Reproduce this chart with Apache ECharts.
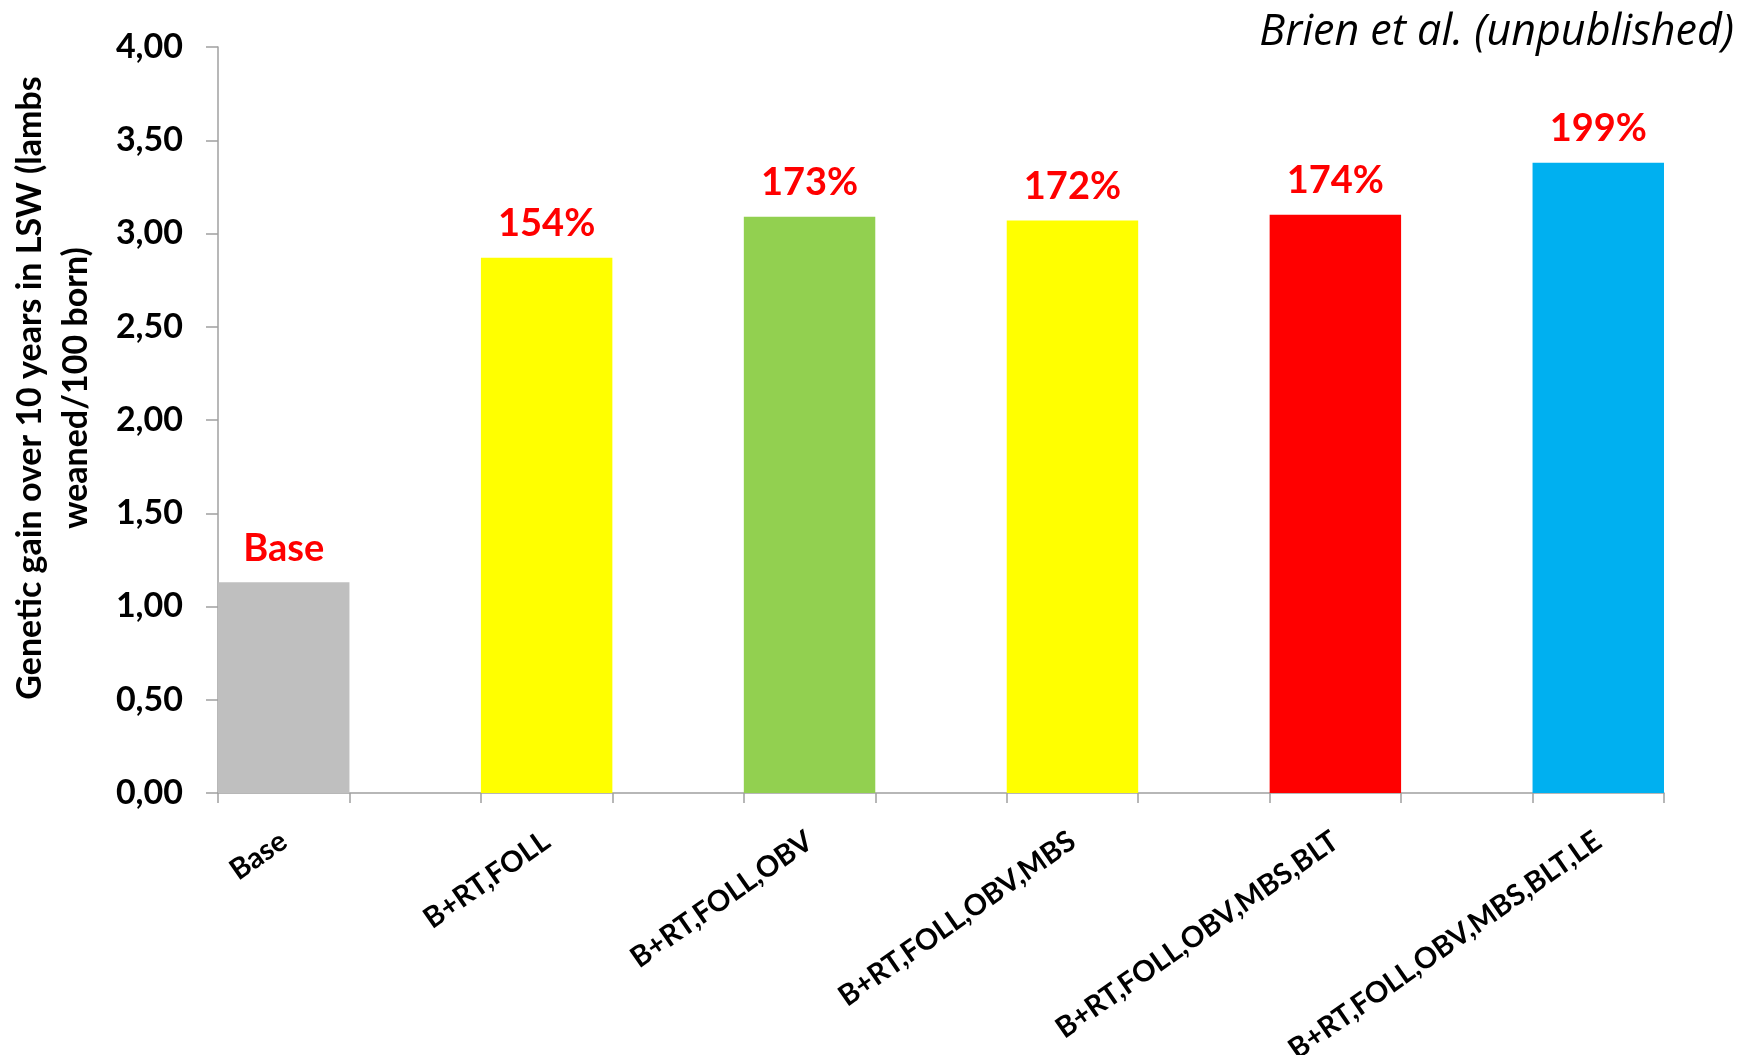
<!DOCTYPE html>
<html>
<head>
<meta charset="utf-8">
<script src="https://cdn.jsdelivr.net/npm/echarts@6/dist/echarts.min.js"></script>
<style>
  html, body { margin: 0; padding: 0; background: #ffffff; }
  #chart { width: 1750px; height: 1055px; }
</style>
</head>
<body>
<div id="chart"></div>
<script>
// Selection scenarios and their 10-year genetic gain in LSW
const categories = ['Base', 'B+RT,FOLL', 'B+RT,FOLL,OBV', 'B+RT,FOLL,OBV,MBS', 'B+RT,FOLL,OBV,MBS,BLT', 'B+RT,FOLL,OBV,MBS,BLT,LE'];
const gains = [1.13, 2.87, 3.09, 3.07, 3.10, 3.38];
const gainLabels = ['Base', '154%', '173%', '172%', '174%', '199%'];
const barColors = ['#BFBFBF', '#FFFF00', '#92D050', '#FFFF00', '#FF0000', '#00B0F0'];

// Each scenario sits in its own slot with an empty slot between neighbours
const slotNames = [];
const slotData = [];
categories.forEach((name, i) => {
  if (i > 0) { slotNames.push(''); slotData.push('-'); }
  slotNames.push(name);
  slotData.push({
    value: gains[i],
    itemStyle: { color: barColors[i] },
    label: { formatter: gainLabels[i] }
  });
});

const axisGrey = '#A0A0A0';
const chart = echarts.init(document.getElementById('chart'), null, { renderer: 'canvas' });
chart.setOption({
  animation: false,
  backgroundColor: '#ffffff',
  title: {
    text: 'Brien et al. (unpublished)',
    right: 11,
    top: 6,
    textStyle: { fontFamily: 'Open Sans', fontStyle: 'italic', fontWeight: 'normal', fontSize: 43, color: '#000000' }
  },
  grid: { left: 218, right: 86, top: 47, bottom: 262, containLabel: false, outerBoundsMode: 'none' },
  xAxis: {
    type: 'category',
    data: slotNames,
    boundaryGap: true,
    axisLine: { lineStyle: { color: axisGrey, width: 1.5 } },
    axisTick: { show: true, interval: 0, length: 10, lineStyle: { color: axisGrey, width: 1.5 } },
    axisLabel: {
      interval: 0,
      rotate: 35,
      margin: 45,
      fontFamily: 'Lato',
      fontWeight: 'bold',
      fontSize: 29,
      color: '#000000'
    },
    splitLine: { show: false }
  },
  yAxis: {
    type: 'value',
    min: 0,
    max: 4,
    interval: 0.5,
    name: 'Genetic gain over 10 years in LSW (lambs\nweaned/100 born)',
    nameLocation: 'middle',
    nameGap: 119,
    nameRotate: 90,
    nameTextStyle: {
      fontFamily: 'Lato',
      fontWeight: 'bold',
      fontSize: 34,
      lineHeight: 46,
      color: '#000000',
      align: 'center',
      padding: [0, 0, 0, 64]
    },
    axisLine: { show: true, lineStyle: { color: axisGrey, width: 1.5 } },
    axisTick: { show: true, length: 12, lineStyle: { color: axisGrey, width: 1.5 } },
    axisLabel: {
      margin: 35,
      fontFamily: 'Lato',
      fontWeight: 'bold',
      fontSize: 34,
      color: '#000000',
      formatter: v => v.toFixed(2).replace('.', ',')
    },
    splitLine: { show: false }
  },
  series: [{
    type: 'bar',
    data: slotData,
    barWidth: '100%',
    barCategoryGap: '0%',
    label: {
      show: true,
      position: 'top',
      distance: 15,
      fontFamily: 'Lato',
      fontWeight: 'bold',
      fontSize: 38,
      color: '#FF0000'
    }
  }]
});
</script>
</body>
</html>
